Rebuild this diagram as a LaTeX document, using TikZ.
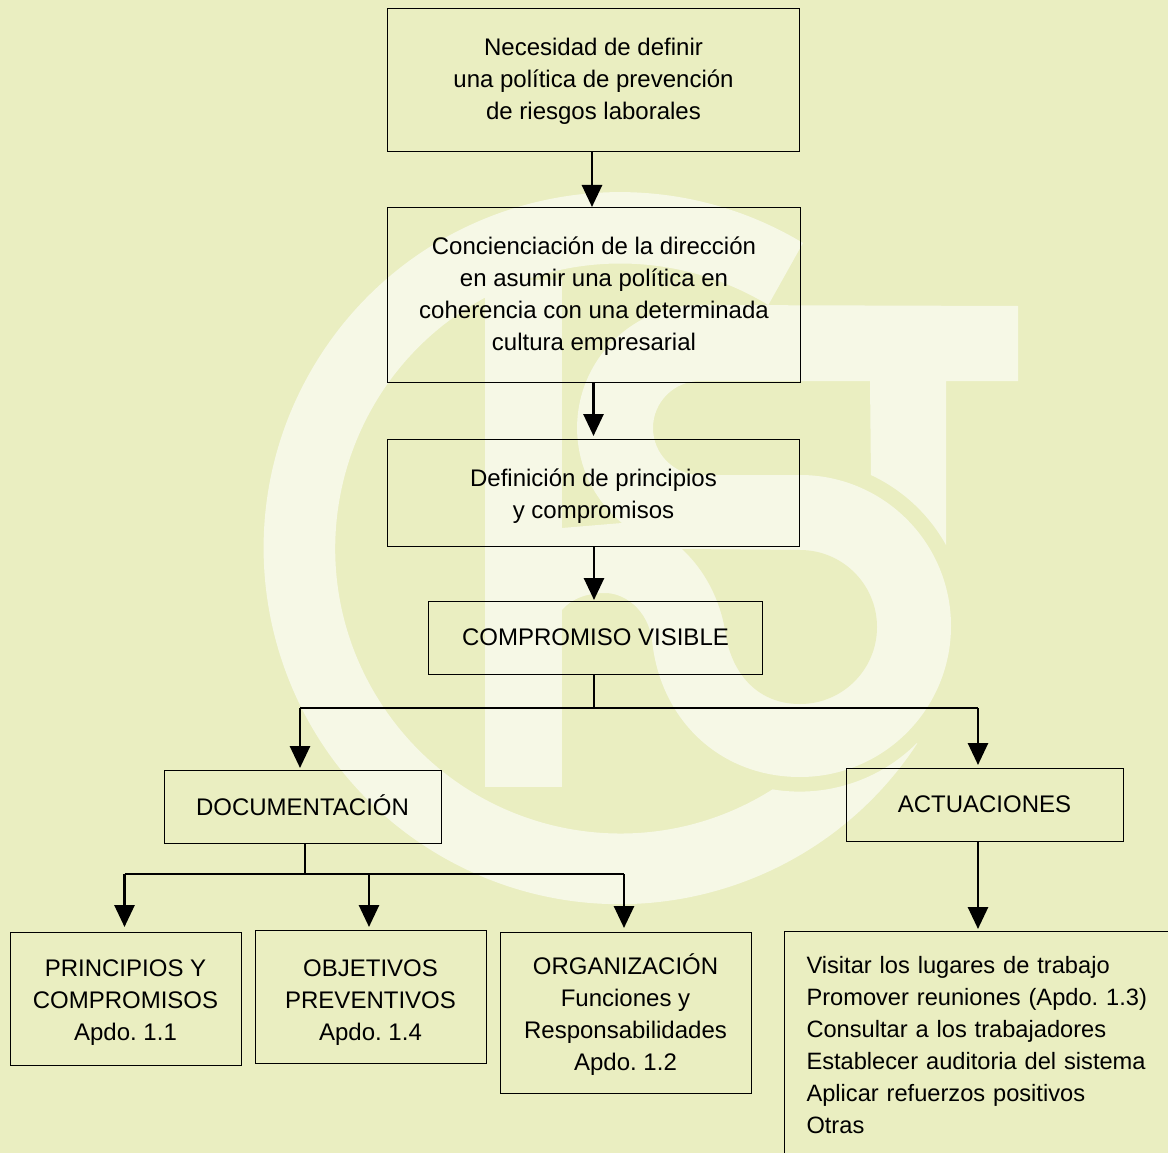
\documentclass[tikz,border=0pt]{standalone}
\usepackage{fontspec}
\setmainfont{Liberation Sans}
\usetikzlibrary{arrows.meta}
\definecolor{paper}{RGB}{234,238,193}
\definecolor{logotint}{RGB}{246,248,230}
\newcommand{\droptext}[1]{\rule{0pt}{#1pt}}
\newcommand{\lifttext}[1]{\rule[-#1pt]{0pt}{0pt}}
\begin{document}
\begin{tikzpicture}[x=1pt,y=-1pt]
	\tikzset{
		box/.style = {draw=black, line width=1pt, align=center, inner sep=0pt, font=\fontsize{24}{32}\selectfont\frenchspacing},
		link/.style = {draw=black, line width=2.8pt},
		flow/.style = {link, -{Triangle[width=20pt,length=22pt]}}
		}
		\useasboundingbox (0,0) rectangle (1168,1153);
		\clip (0,0) rectangle (1168,1153);
		\fill[paper] (0,0) rectangle (1168,1153);

		% ring
		\fill[logotint] (917,743) arc[start angle=45, end angle=99.4, radius=166]
			arc[start angle=57.7, end angle=301.3, radius=285]
			-- (803,243) arc[start angle=-59, end angle=-326.7, radius=356] -- cycle;
		% bar
		\fill[logotint] (485,280) rectangle (562,787);
		% letter outline
		\fill[logotint] (1018,306) -- (1018,381) -- (946,381) -- (946,545)
			arc[start angle=-29, end angle=-65, radius=166] -- (870,381) -- (700,381)
			arc[start angle=-90, end angle=-270, radius=47] -- (800,475)
			arc[start angle=-90, end angle=90, radius=151]
			.. controls (720,777) and (660,720) .. (652,640)
			.. controls (648,610) and (625,593) .. (605,593)
			.. controls (585,593) and (570,600) .. (562,610) -- (562,528) -- (622,523)
			arc[start angle=129.4, end angle=270, radius=123] -- cycle;
		\fill[paper] (682,549) -- (800,550) arc[start angle=-90, end angle=90, radius=77]
			.. controls (755,704) and (730,670) .. (725,630)
			.. controls (720,600) and (705,570) .. (682,549) -- cycle;

		\path 	(593.5,80.5) node [name=need, box, minimum width=412.5pt, minimum height=143pt] {\droptext{18}Necesidad de definir\\una política de prevención\\de riesgos laborales}
				(594,294.5) node [name=aware, box, minimum width=413.5pt, minimum height=175pt] {\droptext{20}Concienciación de la dirección\\en asumir una política en\\coherencia con una determinada\\cultura empresarial}
				(593.5,492.5) node [name=define, box, minimum width=412.5pt, minimum height=107pt] {\droptext{24}Definición de principios\\y compromisos}
				(595.5,637.5) node [name=visible, box, minimum width=334.5pt, minimum height=73pt] {COMPROMISO VISIBLE}
				(302.5,807) node [name=docs, box, minimum width=277pt, minimum height=73pt] {DOCUMENTACIÓN\lifttext{4}}
				(984.5,804.5) node [name=acts, box, minimum width=277pt, minimum height=73pt] {ACTUACIONES}
				(125.5,998.5) node [name=princ, box, minimum width=231pt, minimum height=133pt] {\droptext{24}PRINCIPIOS Y\\COMPROMISOS\\Apdo. 1.1}
				(370.5,996.5) node [name=goals, box, minimum width=231pt, minimum height=133pt] {\droptext{28}OBJETIVOS\\PREVENTIVOS\\Apdo. 1.4}
				(625.5,1012.5) node [name=org, box, minimum width=251pt, minimum height=161pt] {\droptext{24}ORGANIZACIÓN\\Funciones y\\Responsabilidades\\Apdo. 1.2}
				(784,931) node [name=tasks, box, anchor=north west, align=left, minimum width=420pt, minimum height=229pt, text width=376pt, font=\fontsize{23.65}{32}\selectfont\frenchspacing] {Visitar los lugares de trabajo\\Promover reuniones (Apdo. 1.3)\\Consultar a los trabajadores\\Establecer auditoria del sistema\\Aplicar refuerzos positivos\\Otras\lifttext{2}};

		\coordinate (visjoin) at (594,708);
		\coordinate (docdrop) at (300,708);
		\coordinate (actdrop) at (978,708);
		\coordinate (docjoin) at (305,874);
		\coordinate (princdrop) at (124.5,874);
		\coordinate (goaldrop) at (369,874);
		\coordinate (orgdrop) at (624,874);

		\draw[flow] (592,152) -- (592,207);
		\draw[flow] (593.5,382) -- (593.5,436);
		\draw[flow] (594,546) -- (594,600);
		\draw[link] (visjoin |- visible.south) -- (visjoin);
		\draw[link] (docdrop) -- (actdrop);
		\draw[flow] (docdrop) -- (300,768);
		\draw[flow] (actdrop) -- (978,765);
		\draw[link] (docjoin |- docs.south) -- (docjoin);
		\draw[link] (princdrop) -- (orgdrop);
		\draw[flow] (princdrop) -- (124.5,927);
		\draw[flow] (goaldrop) -- (369,927);
		\draw[flow] (orgdrop) -- (624,928);
		\draw[flow] (actdrop |- acts.south) -- (978,929);
	\end{tikzpicture}
\end{document}
